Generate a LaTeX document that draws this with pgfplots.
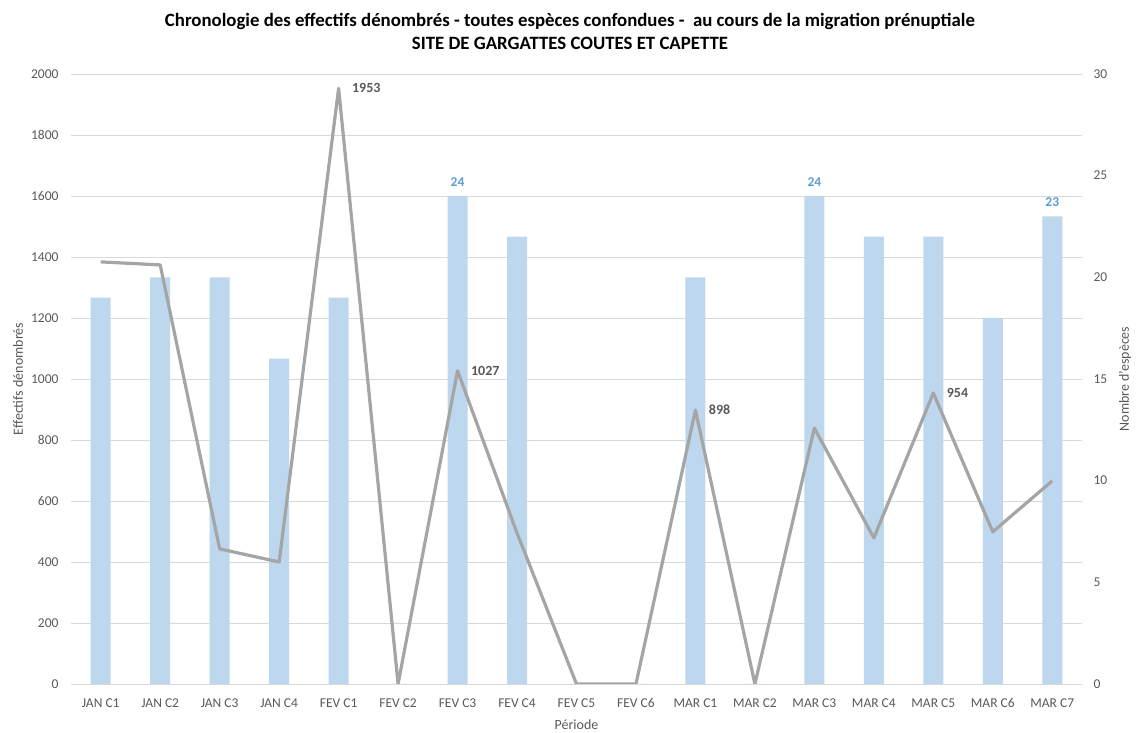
\documentclass[border=0pt]{standalone}
\usepackage{pgfplots}
\pgfplotsset{compat=1.18}
\usepackage{fontspec}
\setmainfont{Carlito}
\definecolor{barc}{HTML}{BDD7EE}
\definecolor{linec}{HTML}{A5A5A5}
\definecolor{bluelab}{HTML}{5B9BD5}
\definecolor{txt}{HTML}{595959}
\definecolor{gridc}{HTML}{D9D9D9}
\begin{document}
\begin{tikzpicture}[x=1pt,y=1pt]
\useasboundingbox (0,0) rectangle (1137,733);
\pgfplotsset{
  every axis/.append style={
    scale only axis, width=1011pt, height=610pt,
    at={(71pt,49pt)}, anchor=south west,
    xmin=-0.5, xmax=16.5,
    /pgf/number format/assume math mode=true,
    ticklabel style={font=\fontsize{13.5}{15}\selectfont, text=txt},
    label style={font=\fontsize{14}{16}\selectfont, text=txt},
    major tick length=0pt,
  }
}
% left axis: grid, ticks, labels (Effectifs)
\begin{axis}[
  ymin=0, ymax=2000, ytick={0,200,...,2000},
  axis y line*=left, axis x line*=bottom,
  y axis line style={draw=none},
  x axis line style={draw=gridc, line width=0.8pt},
  ymajorgrids, grid style={draw=gridc, line width=0.6pt},
  xtick={0,...,16},
  xticklabels={JAN C1,JAN C2,JAN C3,JAN C4,FEV C1,FEV C2,FEV C3,FEV C4,FEV C5,FEV C6,MAR C1,MAR C2,MAR C3,MAR C4,MAR C5,MAR C6,MAR C7},
  xticklabel style={yshift=-11pt},
  yticklabel style={xshift=-9pt},
  ylabel={Effectifs dénombrés},
  ylabel style={at={(axis description cs:-0.0524,0.5)}, anchor=center, rotate=0},
  xlabel={Période},
  xlabel style={at={(axis description cs:0.5,0)}, anchor=center, yshift=-41pt},
  scaled y ticks=false,
  y tick label style={/pgf/number format/.cd, set thousands separator={}, fixed},
]
\end{axis}
% right axis: bars (Nombre d'especes)
\begin{axis}[
  ymin=0, ymax=30, ytick={0,5,...,30},
  axis y line*=right, axis x line=none,
  y axis line style={draw=none},
  yticklabel style={xshift=8pt},
  ylabel={Nombre d'espèces},
  ylabel style={at={(axis description cs:1.0425,0.5)}, anchor=center, rotate=0},
]
\addplot[ybar, bar width=20pt, fill=barc, draw=none] coordinates {
(0,19) (1,20) (2,20) (3,16) (4,19) (5,0) (6,24) (7,22) (8,0) (9,0)
(10,20) (11,0) (12,24) (13,22) (14,22) (15,18) (16,23)
};
\addplot[draw=none, mark=none, nodes near coords, point meta=explicit symbolic,
  every node near coord/.append style={font=\bfseries\fontsize{13.5}{15}\selectfont, text=bluelab, anchor=south, yshift=6pt}]
  coordinates {(6,24)[24] (12,24)[24] (16,23)[23]};
\end{axis}
% line (Effectifs) on the left scale, above the bars
\begin{axis}[
  ymin=0, ymax=2000, axis lines=none, ticks=none,
]
\addplot[linec, line width=3.2pt, line join=round, mark=none] coordinates {
(0,1384) (1,1374) (2,443) (3,400) (4,1953) (5,0) (6,1027) (7,495) (8,0) (9,0)
(10,898) (11,0) (12,839) (13,479) (14,954) (15,499) (16,666)
};
\addplot[draw=none, mark=none, nodes near coords, point meta=explicit symbolic,
  every node near coord/.append style={font=\bfseries\fontsize{14}{16}\selectfont, text=txt, anchor=west, xshift=10pt, yshift=0pt}]
  coordinates {(4,1953)[1953] (6,1027)[1027] (10,898)[898] (14,954)[954]};
\end{axis}
\node[font=\bfseries\fontsize{18.8}{23}\selectfont, align=center, text=black] at (570,701.5)
  {Chronologie des effectifs dénombrés - toutes espèces confondues -~ au cours de la migration prénuptiale\\SITE DE GARGATTES COUTES ET CAPETTE};
\end{tikzpicture}
\end{document}
